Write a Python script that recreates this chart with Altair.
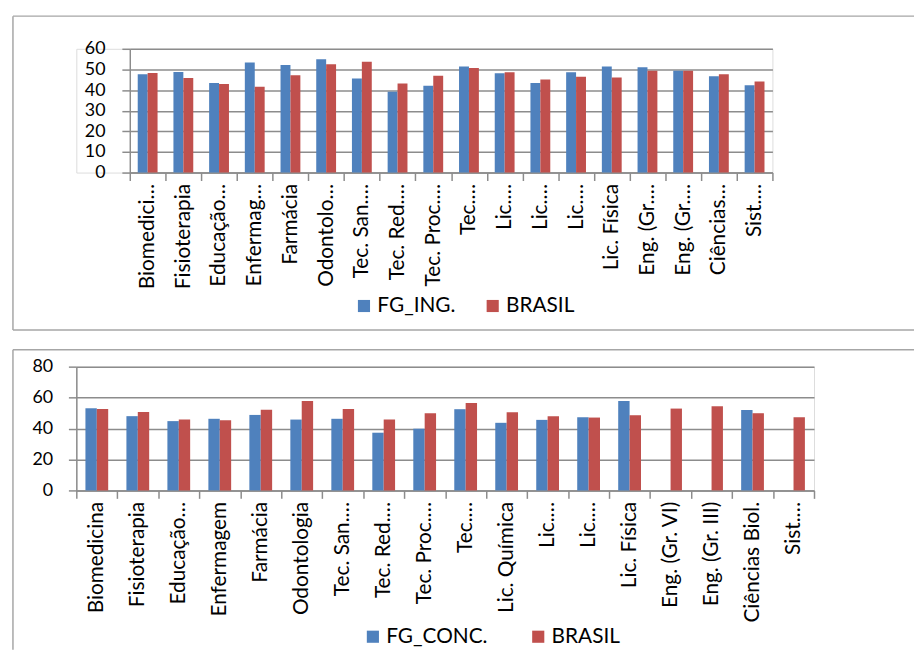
import json
import altair as alt
import pandas as pd

# ---- data ----
labels1 = ["Biomedici…", "Fisioterapia", "Educação…", "Enfermag…", "Farmácia", "Odontolo…",
           "Tec. San.…", "Tec. Red.…", "Tec. Proc.…", "Tec.…", "Lic.…", "Lic.…", "Lic.…",
           "Lic. Física", "Eng. (Gr.…", "Eng. (Gr.…", "Ciências…", "Sist.…"]
fg_ing = [47.7, 48.8, 43.4, 53.4, 52.2, 54.9, 45.6, 39.2, 42.1, 51.4, 48.2, 43.4, 48.6,
          51.4, 51.0, 49.4, 46.7, 42.3]
brasil1 = [48.3, 45.8, 42.9, 41.6, 47.2, 52.5, 53.7, 43.2, 46.9, 50.7, 48.6, 45.1, 46.4,
           46.1, 49.4, 49.4, 47.7, 44.2]

labels2 = ["Biomedicina", "Fisioterapia", "Educação…", "Enfermagem", "Farmácia", "Odontologia",
           "Tec. San.…", "Tec. Red.…", "Tec. Proc.…", "Tec.…", "Lic. Química", "Lic.…", "Lic.…",
           "Lic. Física", "Eng. (Gr. VI)", "Eng. (Gr. III)", "Ciências Biol.", "Sist.…"]
fg_conc = [53.1, 48.0, 44.8, 46.3, 48.8, 45.8, 46.3, 37.3, 39.9, 52.5, 43.7, 45.6, 47.3,
           57.8, None, None, 52.0, None]
brasil2 = [52.7, 50.7, 45.8, 45.4, 52.2, 57.8, 52.7, 45.8, 49.9, 56.5, 50.5, 48.0, 47.1,
           48.6, 52.9, 54.4, 49.9, 47.3]

series1 = ["FG_ING.", "BRASIL"]
series2 = ["FG_CONC.", "BRASIL"]
yticks1 = [0, 10, 20, 30, 40, 50, 60]
yticks2 = [0, 20, 40, 60, 80]

BLUE = "#4F81BD"
RED = "#C0504D"
GRID = "#8c8c8c"
FRAME = "#a6a6a6"
FONT = "Lato"
FS = 21
FSY = 18


def long_df(labels, a, b, names):
    rows = []
    for i, lab in enumerate(labels):
        rows.append({"idx": i, "series": names[0], "value": a[i]})
        rows.append({"idx": i, "series": names[1], "value": b[i]})
    return pd.DataFrame(rows)


def frame(left, top, right, bottom, draw_bottom=True):
    d = alt.Data(values=[{"k": 1}])
    base = alt.Chart(d).mark_rule(color=FRAME, strokeWidth=1.5)
    layers = [
        base.encode(x=alt.value(left), x2=alt.value(right), y=alt.value(top)),
        base.encode(x=alt.value(left), y=alt.value(top), y2=alt.value(bottom)),
    ]
    if draw_bottom:
        layers.append(base.encode(x=alt.value(left), x2=alt.value(right), y=alt.value(bottom)))
    return layers


def panel(labels, a, b, names, yticks, xrange, width, height, ypad, yoff,
          legx, legy, colpad, fr, draw_bottom):
    df = long_df(labels, a, b, names)
    expr = json.dumps(labels, ensure_ascii=False) + "[datum.value]"
    bars = alt.Chart(df).mark_bar().encode(
        x=alt.X("idx:O",
                scale=alt.Scale(paddingInner=0, paddingOuter=0, range=xrange),
                axis=alt.Axis(title=None, labelExpr=expr, labelAngle=270,
                              labelAlign="right", labelBaseline="middle",
                              labelFont=FONT, labelFontSize=FS, labelColor="black",
                              labelPadding=3, tickBand="extent", tickSize=8,
                              tickColor=GRID, tickWidth=1.5, domainColor=GRID,
                              domainWidth=1.5, grid=False, labelOverlap=False,
                              labelLimit=300)),
        xOffset=alt.XOffset("series:N", sort=names,
                            scale=alt.Scale(domain=names, paddingOuter=0.8, paddingInner=0)),
        y=alt.Y("value:Q",
                scale=alt.Scale(domain=[yticks[0], yticks[-1]], nice=False),
                axis=alt.Axis(title=None, values=yticks, grid=True, gridColor=GRID,
                              gridWidth=1.5, domainColor=GRID, domainWidth=1.5,
                              tickColor=GRID, tickWidth=1.5, tickSize=8,
                              labelFont=FONT, labelFontSize=FSY, labelColor="black",
                              labelPadding=ypad, labelOverlap=False, offset=yoff)),
        color=alt.Color("series:N",
                        scale=alt.Scale(domain=names, range=[BLUE, RED]),
                        legend=alt.Legend(title=None, orient="none", legendX=legx,
                                          legendY=legy, direction="horizontal",
                                          symbolType="square", symbolSize=150,
                                          symbolStrokeWidth=0, labelFont=FONT,
                                          labelFontSize=FS, labelColor="black",
                                          columnPadding=colpad, labelOffset=3)),
    )
    layers = [bars] + frame(*fr, draw_bottom=draw_bottom)
    return alt.layer(*layers).properties(width=width, height=height)


# Both panels share the same plot origin (page x 75); the upper panel's
# category range and y axis start 54 px further right, as in the reference.
c1 = panel(labels1, fg_ing, brasil1, series1, yticks1, [54, 703], 703, 125, 17, -54,
           280, 249, 27, (-64, -33, 846, 284), True)
c2 = panel(labels2, fg_conc, brasil2, series2, yticks2, [0, 745], 745, 125, 16, 0,
           289, 262, 40, (-64, -17, 846, 286), False)

chart = alt.vconcat(c1, c2, spacing=16).resolve_scale(
    color="independent", x="independent", y="independent", xOffset="independent"
).properties(
    padding={"left": 3, "top": 3, "right": 0, "bottom": 0}
).configure_view(stroke=None).configure(font=FONT)

chart.save("out.html", embed_options={"renderer": "svg", "actions": False})
